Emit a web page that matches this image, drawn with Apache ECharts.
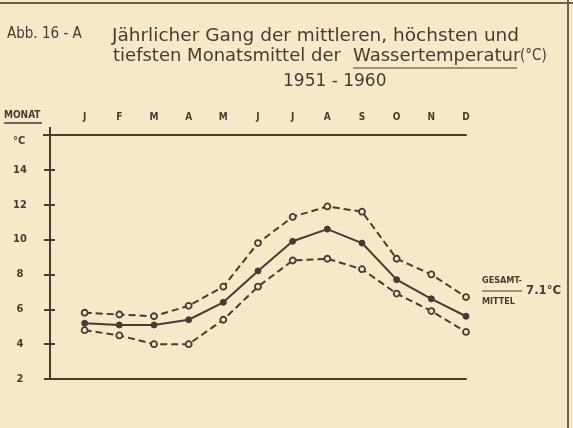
<!DOCTYPE html>
<html>
<head>
<meta charset="utf-8">
<script src="https://cdn.jsdelivr.net/npm/echarts@6/dist/echarts.min.js"></script>
<style>
  html, body { margin: 0; padding: 0; background: #f6e8c8; }
  #chart { width: 573px; height: 428px; }
</style>
</head>
<body>
<div id="chart"></div>
<script>
var months = ['J', 'F', 'M', 'A', 'M', 'J', 'J', 'A', 'S', 'O', 'N', 'D'];
var highest = [5.8, 5.7, 5.6, 6.2, 7.3, 9.8, 11.3, 11.9, 11.6, 8.9, 8.0, 6.7];
var mean    = [5.2, 5.1, 5.1, 5.4, 6.4, 8.2, 9.9, 10.6, 9.8, 7.7, 6.6, 5.6];
var lowest  = [4.8, 4.5, 4.0, 4.0, 5.4, 7.3, 8.8, 8.9, 8.3, 6.9, 5.9, 4.7];
var yTicks = [2, 4, 6, 8, 10, 12, 14];
var overallMean = '7.1°C';

var ink = '#483c31';
var paper = '#f6e8c8';
var labelFont = '"DejaVu Sans Condensed", "DejaVu Sans", sans-serif';
var titleFont = '18px "DejaVu Sans", sans-serif';

function pairs(arr) {
    return arr.map(function (v, i) { return [i + 1, v]; });
}

var chart = echarts.init(document.getElementById('chart'));

chart.setOption({
    backgroundColor: paper,
    animation: false,
    grid: { left: 50, right: 107, top: 135, bottom: 49 },
    xAxis: [
        {
            type: 'value', min: 0, max: 12, interval: 1, position: 'bottom',
            axisLine: { show: true, lineStyle: { color: ink, width: 2 } },
            axisTick: { show: false }, axisLabel: { show: false }, splitLine: { show: false }
        },
        {
            type: 'value', min: 0, max: 12, interval: 1, position: 'top',
            axisLine: { show: true, lineStyle: { color: ink, width: 2 } },
            axisTick: { show: false }, splitLine: { show: false },
            axisLabel: {
                margin: 13, color: ink, fontFamily: labelFont, fontWeight: 'bold', fontSize: 10,
                formatter: function (v) { return v >= 1 ? months[v - 1] : ''; }
            }
        }
    ],
    yAxis: [
        {
            type: 'value', min: 2, max: 16, interval: 2,
            axisLine: { show: true, lineStyle: { color: ink, width: 2 } },
            axisTick: { show: true, length: 6, lineStyle: { color: ink, width: 2 } },
            splitLine: { show: false },
            axisLabel: {
                margin: 30, align: 'center', color: ink, fontFamily: labelFont,
                fontWeight: 'bold', fontSize: 11,
                formatter: function (v) { return yTicks.indexOf(v) >= 0 ? String(v) : ''; }
            }
        },
        {
            type: 'value', min: 2, max: 16, interval: 2, position: 'left',
            axisLine: { show: false },
            axisTick: { show: true, inside: true, length: 5, lineStyle: { color: ink, width: 2 } },
            axisLabel: { show: false }, splitLine: { show: false }
        }
    ],
    series: [
        {
            name: 'höchste', type: 'line', data: pairs(highest),
            symbol: 'circle', symbolSize: 6,
            lineStyle: { color: ink, width: 2, type: [7, 4] },
            itemStyle: { color: paper, borderColor: ink, borderWidth: 1.8 }
        },
        {
            name: 'mittlere', type: 'line', data: pairs(mean),
            symbol: 'circle', symbolSize: 6,
            lineStyle: { color: ink, width: 2 },
            itemStyle: { color: ink, borderColor: ink, borderWidth: 1 }
        },
        {
            name: 'tiefste', type: 'line', data: pairs(lowest),
            symbol: 'circle', symbolSize: 6,
            lineStyle: { color: ink, width: 2, type: [7, 4] },
            itemStyle: { color: paper, borderColor: ink, borderWidth: 1.8 }
        }
    ],
    graphic: [
        // frame edges
        { type: 'line', shape: { x1: 0, y1: 3, x2: 573, y2: 3 }, style: { stroke: '#6e604f', lineWidth: 2 } },
        { type: 'line', shape: { x1: 568, y1: 0, x2: 568, y2: 428 }, style: { stroke: '#6e604f', lineWidth: 2 } },
        // axis line overhangs
        { type: 'line', shape: { x1: 50, y1: 127, x2: 50, y2: 135 }, style: { stroke: ink, lineWidth: 2 } },
        { type: 'line', shape: { x1: 43, y1: 135, x2: 50, y2: 135 }, style: { stroke: ink, lineWidth: 2 } },
        { type: 'line', shape: { x1: 44, y1: 379, x2: 50, y2: 379 }, style: { stroke: ink, lineWidth: 2 } },
        // title
        { type: 'text', left: 7, top: 27, style: { text: 'Abb. 16 - A', fill: ink, font: '15px "DejaVu Sans Condensed", sans-serif' } },
        { type: 'text', left: 112, top: 27, style: { text: 'Jährlicher Gang der mittleren, höchsten und', fill: ink, font: '18.5px "DejaVu Sans", sans-serif' } },
        { type: 'text', left: 113, top: 47, style: { text: 'tiefsten Monatsmittel der', fill: ink, font: titleFont } },
        { type: 'text', left: 353, top: 47, style: { text: 'Wassertemperatur', fill: ink, font: titleFont } },
        { type: 'line', shape: { x1: 353, y1: 68, x2: 517, y2: 68 }, style: { stroke: ink, lineWidth: 1.2 } },
        { type: 'text', left: 520, top: 49, style: { text: '(°C)', fill: ink, font: '15px "DejaVu Sans Condensed", sans-serif' } },
        { type: 'text', left: 283, top: 73, style: { text: '1951 - 1960', fill: ink, font: '17px "DejaVu Sans", sans-serif' } },
        // axis captions
        { type: 'text', left: 4, top: 110, style: { text: 'MONAT', fill: ink, font: 'bold 10px "DejaVu Sans Condensed", sans-serif' } },
        { type: 'line', shape: { x1: 4, y1: 123, x2: 42, y2: 123 }, style: { stroke: ink, lineWidth: 1.5 } },
        { type: 'text', left: 13, top: 136, style: { text: '°C', fill: ink, font: 'bold 11px "DejaVu Sans Condensed", sans-serif' } },
        // overall mean annotation
        { type: 'text', left: 482, top: 276, style: { text: 'GESAMT-', fill: ink, font: 'bold 9px "DejaVu Sans Condensed", sans-serif' } },
        { type: 'line', shape: { x1: 482, y1: 291, x2: 522, y2: 291 }, style: { stroke: ink, lineWidth: 1.2 } },
        { type: 'text', left: 482, top: 297, style: { text: 'MITTEL', fill: ink, font: 'bold 9px "DejaVu Sans Condensed", sans-serif' } },
        { type: 'text', left: 526, top: 284, style: { text: overallMean, fill: ink, font: 'bold 13px "DejaVu Sans Condensed", sans-serif' } }
    ]
});
</script>
</body>
</html>
